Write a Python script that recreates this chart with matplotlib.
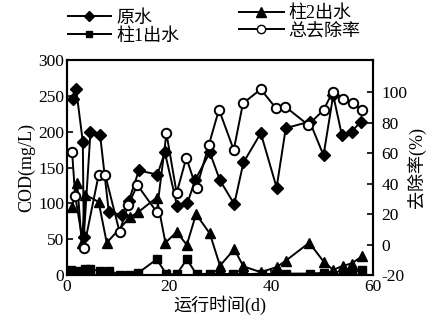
import matplotlib
matplotlib.use('Agg')
import matplotlib.pyplot as plt
from matplotlib.lines import Line2D

plt.rcParams['font.family'] = ['Liberation Serif', 'Noto Sans CJK SC', 'DejaVu Sans']
plt.rcParams['axes.unicode_minus'] = False

# 原水 (raw water COD, mg/L)
raw_days = [1.1, 1.8, 3.1, 3.3, 4.6, 6.5, 8.2, 10.7, 12.1, 14.1, 17.7, 19.2, 21.6, 23.6,
            25.1, 28, 30, 32.8, 34.6, 38, 41.1, 42.9, 47.6, 50.3, 52.2, 53.9, 55.8, 57.6]
raw_cod = [245, 259, 186, 53, 199, 195, 88, 84, 103, 146, 140, 171, 96, 100,
           132, 171, 132, 99, 157, 198, 122, 205, 214, 167, 251, 195, 200, 214]

# 柱1出水 (column 1 effluent)
c1_days = [0.7, 2, 3.5, 4.5, 6.5, 8.3, 10.4, 12.2, 14, 17.6, 19.5, 21.5, 23.5, 25.4,
           28, 30, 32.6, 34.5, 38.2, 41, 42.9, 47.6, 50.3, 52.2, 54.1, 55.8, 57.8]
c1_cod = [7, 6, 8, 9, 5, 6, 0, 0, 3, 22, 1, 1, 22, 1,
          2, 1, 2, 1, 2, 1, 2, 2, 3, 0, 2, 3, 7]

# 柱2出水 (column 2 effluent)
c2_days = [1, 2, 2.9, 3.6, 6.2, 7.8, 12.4, 14, 17.6, 19.3, 21.5, 23.5, 25.3,
           28, 30, 32.8, 34.6, 38, 41.1, 42.9, 47.5, 50.4, 52.2, 54.1, 55.8, 57.8]
c2_cod = [95, 128, 44, 112, 102, 45, 81, 88, 108, 45, 60, 42, 85,
          58, 13, 36, 12, 4, 11, 20, 45, 18, 7, 13, 16, 26]

# 总去除率 (total removal rate, %)
rem_days = [1, 1.6, 3.3, 6.2, 7.5, 10.3, 12, 13.8, 17.6, 19.5, 21.5, 23.4, 25.4,
            27.8, 29.8, 32.7, 34.5, 38, 41, 42.8, 47.3, 50.3, 52.1, 54.1, 56, 57.8]
rem_rate = [61, 32, -2.5, 45.6, 45.6, 8.4, 25.9, 39, 21.3, 72.9, 33.8, 56.8, 36.8,
            65.2, 88.5, 62, 92.6, 101.8, 89.3, 90.4, 78.4, 88.2, 100.2, 95.2, 93, 88.2]

fig = plt.figure(figsize=(4.28, 3.26), dpi=100)
ax1 = fig.add_axes([0.1565, 0.1564, 0.715, 0.6595])
ax2 = ax1.twinx()

lw = 1.4
ax1.plot(raw_days, raw_cod, color='black', lw=lw, marker='D', ms=6, mfc='black', mec='black')
ax1.plot(c1_days, c1_cod, color='black', lw=lw, marker='s', ms=6, mfc='black', mec='black')
ax1.plot(c2_days, c2_cod, color='black', lw=lw, marker='^', ms=7.5, mfc='black', mec='black')
ax2.plot(rem_days, rem_rate, color='black', lw=lw, marker='o', ms=6.8, mfc='white', mec='black', mew=1.4)

ax1.set_xlim(0, 60)
ax1.set_ylim(0, 300)
ax2.set_ylim(-20, 121)
ax1.set_xticks([0, 20, 40, 60])
ax1.set_yticks([0, 50, 100, 150, 200, 250, 300])
ax2.set_yticks([-20, 0, 20, 40, 60, 80, 100])

ax1.tick_params(direction='in', length=4, width=1.2, labelsize=12.5, pad=2)
ax1.tick_params(axis='x', pad=3)
ax2.tick_params(direction='in', length=4, width=1.2, labelsize=12.5, pad=6)
for ax in (ax1, ax2):
    for s in ax.spines.values():
        s.set_linewidth(1.5)

ax1.set_xlabel('运行时间(d)', fontsize=13, labelpad=0)
ax1.set_ylabel('COD(mg/L)', fontsize=13, labelpad=2)
ax2.set_ylabel('去除率(%)', fontsize=13, labelpad=0)

def handle(marker, ms, mfc):
    return Line2D([], [], color='black', lw=lw, marker=marker, ms=ms, mfc=mfc, mec='black')

leg1 = fig.legend([handle('D', 5, 'black'), handle('s', 5, 'black')], ['原水', '柱1出水'],
                  loc='upper left', bbox_to_anchor=(0.12, 1.02), frameon=False,
                  fontsize=13, handlelength=2.4, handletextpad=0.3, labelspacing=0.05)
leg2 = fig.legend([handle('^', 7, 'black'), handle('o', 6, 'white')], ['柱2出水', '总去除率'],
                  loc='upper left', bbox_to_anchor=(0.52, 1.035), frameon=False,
                  fontsize=13, handlelength=2.5, handletextpad=0.25, labelspacing=0.05)

fig.savefig('out.png', dpi=100)
